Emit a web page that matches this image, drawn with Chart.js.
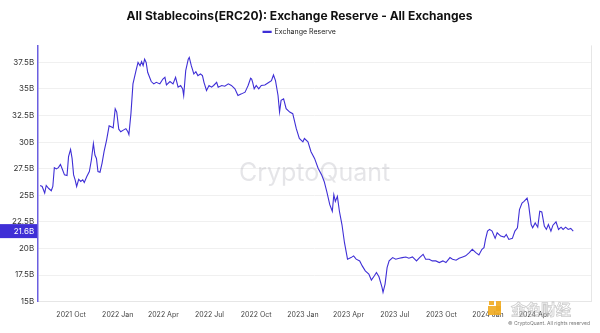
<!DOCTYPE html>
<html>
<head>
<meta charset="utf-8">
<script src="https://cdn.jsdelivr.net/npm/chart.js@4.4.1/dist/chart.umd.min.js"></script>
<style>
  html, body { margin: 0; padding: 0; background: #fff; }
  #wrap { width: 600px; height: 333px; position: relative; }
</style>
</head>
<body>
<div id="wrap"><canvas id="chartReserve"></canvas></div>
<script>
// Exchange Reserve (billions USD)
const dates = [
  '2021-08-01','2021-08-05','2021-08-10','2021-08-13','2021-08-18','2021-08-23','2021-08-26','2021-08-29',
  '2021-09-02','2021-09-06','2021-09-10','2021-09-14','2021-09-18','2021-09-23','2021-09-26','2021-09-30',
  '2021-10-03','2021-10-06','2021-10-09','2021-10-12','2021-10-16','2021-10-20','2021-10-24','2021-10-27',
  '2021-11-01','2021-11-06','2021-11-10','2021-11-14','2021-11-17','2021-11-20','2021-11-23','2021-11-27',
  '2021-12-01','2021-12-05','2021-12-10','2021-12-15','2021-12-20','2021-12-23','2021-12-27','2021-12-30',
  '2022-01-03','2022-01-07','2022-01-12','2022-01-17','2022-01-21','2022-01-23','2022-01-27','2022-01-31',
  '2022-02-06','2022-02-10','2022-02-14','2022-02-17','2022-02-20','2022-02-23','2022-02-26','2022-03-01',
  '2022-03-08','2022-03-13','2022-03-18','2022-03-25','2022-03-31','2022-04-04','2022-04-07','2022-04-14',
  '2022-04-20','2022-04-25','2022-04-30','2022-05-05','2022-05-09','2022-05-11','2022-05-15','2022-05-20',
  '2022-05-22','2022-05-26','2022-05-31','2022-06-04','2022-06-08','2022-06-13','2022-06-17','2022-06-20',
  '2022-06-25','2022-06-30','2022-07-05','2022-07-09','2022-07-15','2022-07-18','2022-07-25','2022-07-31',
  '2022-08-07','2022-08-13','2022-08-20','2022-08-26','2022-09-02','2022-09-09','2022-09-12','2022-09-15',
  '2022-09-20','2022-09-22','2022-09-24','2022-09-27','2022-10-01','2022-10-06','2022-10-11','2022-10-18',
  '2022-10-24','2022-10-31','2022-11-04','2022-11-08','2022-11-13','2022-11-16','2022-11-19','2022-11-24',
  '2022-11-29','2022-12-06','2022-12-12','2022-12-19','2022-12-25','2023-01-01','2023-01-04','2023-01-11',
  '2023-01-17','2023-01-24','2023-01-31','2023-02-07','2023-02-12','2023-02-17','2023-02-23','2023-02-28',
  '2023-03-03','2023-03-06','2023-03-10','2023-03-14','2023-03-19','2023-03-24','2023-03-30','2023-04-06',
  '2023-04-11','2023-04-16','2023-04-23','2023-04-28','2023-05-04','2023-05-11','2023-05-16','2023-05-22',
  '2023-05-26','2023-05-31','2023-06-06','2023-06-08','2023-06-12','2023-06-16','2023-06-20','2023-06-27',
  '2023-07-03','2023-07-10','2023-07-16','2023-07-23','2023-07-29','2023-08-05','2023-08-13','2023-08-19',
  '2023-08-26','2023-08-31','2023-09-07','2023-09-13','2023-09-20','2023-09-27','2023-10-04','2023-10-10',
  '2023-10-18','2023-10-23','2023-10-30','2023-11-05','2023-11-12','2023-11-18','2023-11-25','2023-12-01',
  '2023-12-08','2023-12-14','2023-12-20','2023-12-24','2023-12-27','2023-12-31','2024-01-04','2024-01-09',
  '2024-01-15','2024-01-19','2024-01-26','2024-02-02','2024-02-06','2024-02-11','2024-02-18','2024-02-23',
  '2024-02-28','2024-03-03','2024-03-08','2024-03-12','2024-03-18','2024-03-21','2024-03-26','2024-03-29',
  '2024-04-03','2024-04-08','2024-04-12','2024-04-16','2024-04-21','2024-04-25','2024-04-29','2024-05-04',
  '2024-05-08','2024-05-14','2024-05-19','2024-05-24','2024-05-28','2024-06-02','2024-06-07','2024-06-12',
  '2024-06-17'
];
const reserve = [
  25.92,25.83,25.21,25.92,25.64,25.43,25.83,27.60,
  27.48,27.60,27.91,27.42,26.92,26.86,28.63,29.31,
  28.47,26.92,26.46,25.83,26.51,26.30,26.46,26.20,
  26.76,27.23,28.32,29.87,28.79,28.47,27.23,27.17,
  28.01,29.10,30.19,31.53,31.43,31.34,33.14,32.83,
  31.22,30.97,31.13,31.27,30.97,30.71,32.68,35.48,
  36.73,37.50,37.19,37.57,37.19,37.81,37.50,36.57,
  35.70,35.48,35.63,35.48,35.94,36.10,35.38,35.70,
  35.48,36.10,35.17,35.33,35.01,34.39,36.73,37.81,
  37.97,37.19,36.41,36.63,36.26,36.41,36.26,35.63,
  34.86,35.33,35.17,35.33,35.63,35.17,35.33,35.26,
  35.48,35.33,35.01,34.39,34.54,34.70,35.01,35.33,
  36.01,35.94,35.63,35.01,35.33,35.01,35.33,35.38,
  35.57,35.79,36.32,35.79,34.39,32.83,33.93,34.08,
  33.14,32.83,32.68,31.27,30.34,30.03,30.34,30.03,
  29.10,28.47,27.54,26.92,26.30,25.36,24.12,23.50,
  25.06,24.43,24.90,23.50,22.25,20.54,18.99,19.14,
  19.30,18.99,18.83,18.36,17.89,17.59,17.03,17.43,
  17.74,17.33,16.34,15.87,16.65,18.20,18.83,19.14,
  18.99,19.08,19.14,19.20,19.08,19.20,18.83,19.14,
  19.45,18.99,18.99,18.83,18.83,18.67,18.83,18.67,
  19.14,18.99,18.89,19.08,19.20,19.30,19.60,19.92,
  19.60,19.39,19.92,20.07,20.85,21.63,21.79,21.63,
  20.95,21.47,21.16,21.07,21.32,20.85,20.95,21.63,
  21.94,23.66,24.27,24.43,24.74,24.12,22.25,21.94,
  22.40,22.00,23.50,23.43,22.10,21.79,22.25,21.63,
  22.19,22.50,21.79,22.00,21.79,22.00,21.79,21.88,
  21.63
];

const xTickDates = ['2021-10-01','2022-01-01','2022-04-01','2022-07-01','2022-10-01','2023-01-01','2023-04-01','2023-07-01','2023-10-01','2024-01-01','2024-04-01'];
const xTickLabels = ['2021 Oct','2022 Jan','2022 Apr','2022 Jul','2022 Oct','2023 Jan','2023 Apr','2023 Jul','2023 Oct','2024 Jan','2024 Apr'];
const yTicks = [15, 17.5, 20, 22.5, 25, 27.5, 30, 32.5, 35, 37.5];

const LINE = '#3f2fd6';

function dayNum(s) {
    const [y, m, d] = s.split('-').map(Number);
    return Date.UTC(y, m - 1, d) / 86400000;
}

const points = dates.map((d, i) => ({ x: dayNum(d), y: reserve[i] }));

// watermark, right border, latest value tag, logo
const decor = {
    id: 'decor',
    beforeDatasetsDraw(chart) {
        const { ctx, chartArea: a } = chart;
        ctx.save();
        ctx.font = '25px Inter';
        ctx.fillStyle = 'rgba(170,170,180,0.3)';
        ctx.textAlign = 'center';
        ctx.textBaseline = 'middle';
        ctx.fillText('CryptoQuant', (a.left + a.right) / 2, (a.top + a.bottom) / 2);
        ctx.strokeStyle = '#e6e6e6';
        ctx.lineWidth = 1;
        ctx.beginPath();
        ctx.moveTo(a.right + 0.5, a.top);
        ctx.lineTo(a.right + 0.5, a.bottom);
        ctx.stroke();
        ctx.restore();
    },
    afterDraw(chart) {
        const { ctx, chartArea: a } = chart;
        const yScale = chart.scales.y;
        const last = reserve[reserve.length - 1];
        const py = yScale.getPixelForValue(last);
        ctx.save();
        ctx.fillStyle = '#3f2fd6';
        ctx.fillRect(0, py - 7, a.left - 1, 14);
        ctx.fillStyle = '#fff';
        ctx.font = '8px Inter';
        ctx.textAlign = 'right';
        ctx.textBaseline = 'middle';
        ctx.fillText(last.toFixed(1) + 'B', a.left - 4, py + 0.5);

        // logo overlay bottom right
        ctx.fillStyle = 'rgba(240,170,30,0.9)';
        ctx.fillRect(488, 306, 13, 9);
        ctx.fillRect(496, 301, 5, 10);
        ctx.fillRect(489, 301, 5, 4);
        ctx.font = 'bold 15px "Noto Sans CJK SC"';
        ctx.textAlign = 'left';
        ctx.textBaseline = 'middle';
        ctx.strokeStyle = 'rgba(190,190,190,0.8)';
        ctx.lineWidth = 0.8;
        ctx.strokeText('金色财经', 511, 309);
        ctx.font = '5px Inter';
        ctx.fillStyle = '#777';
        ctx.textAlign = 'right';
        ctx.fillText('© CryptoQuant. All rights reserved', 590, 323);
        ctx.restore();
    }
};

new Chart(document.getElementById('chartReserve'), {
    type: 'line',
    data: {
        datasets: [{
            label: 'Exchange Reserve',
            data: points,
            borderColor: LINE,
            backgroundColor: LINE,
            borderWidth: 1.1,
            pointRadius: 0,
            tension: 0
        }]
    },
    options: {
        responsive: true,
        maintainAspectRatio: false,
        animation: false,
        layout: { padding: { left: 8, right: 9, top: 4, bottom: 5 } },
        plugins: {
            title: {
                display: true,
                text: 'All Stablecoins(ERC20): Exchange Reserve - All Exchanges',
                color: '#111',
                font: { family: 'Inter', size: 12, weight: 'bold' },
                padding: { top: 5, bottom: 2 }
            },
            legend: {
                display: true,
                labels: { boxWidth: 8, boxHeight: 1, color: '#222', font: { family: 'Inter', size: 7 }, padding: 3 }
            },
            tooltip: { enabled: false }
        },
        scales: {
            x: {
                type: 'linear',
                min: dayNum('2021-07-28'),
                max: dayNum('2024-07-22'),
                afterBuildTicks: axis => { axis.ticks = xTickDates.map(d => ({ value: dayNum(d) })); },
                ticks: {
                    autoSkip: false,
                    maxRotation: 0,
                    color: '#444',
                    font: { family: 'Inter', size: 7 },
                    padding: 9,
                    callback: (v) => {
                        const i = xTickDates.findIndex(d => dayNum(d) === v);
                        return i >= 0 ? xTickLabels[i] : '';
                    }
                },
                grid: { display: false, drawTicks: false },
                border: { color: '#e6e6e6' }
            },
            y: {
                min: 15,
                max: 39.1,
                afterBuildTicks: axis => { axis.ticks = yTicks.map(v => ({ value: v })); },
                ticks: {
                    color: '#333',
                    font: { family: 'Inter', size: 8 },
                    padding: 4,
                    callback: v => v + 'B'
                },
                grid: { color: '#f0f0f0', drawTicks: false },
                border: { color: '#6b5fe0', width: 1.5 }
            }
        }
    },
    plugins: [decor]
});
</script>
</body>
</html>
